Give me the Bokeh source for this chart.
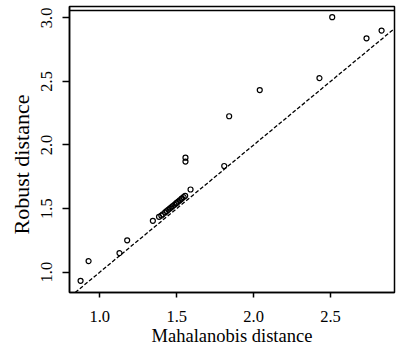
from bokeh.plotting import figure
from bokeh.models import Range1d, FixedTicker, PrintfTickFormatter, Slope, Span, Title
from bokeh.embed import file_html
from bokeh.resources import INLINE

# Mahalanobis distance (x) vs robust distance (y)
maha = [0.875, 0.927, 1.128, 1.178, 1.345,
        1.385, 1.400, 1.410, 1.425, 1.435, 1.445, 1.455, 1.465, 1.475,
        1.485, 1.495, 1.500, 1.510, 1.520, 1.530, 1.535, 1.545, 1.555,
        1.590, 1.557, 1.557, 1.809, 1.841, 2.040, 2.428, 2.511, 2.734, 2.832]
robust = [0.932, 1.087, 1.150, 1.250, 1.404,
          1.435, 1.445, 1.455, 1.470, 1.480, 1.490, 1.500, 1.510, 1.520,
          1.530, 1.540, 1.545, 1.555, 1.565, 1.575, 1.580, 1.590, 1.600,
          1.650, 1.900, 1.870, 1.835, 2.226, 2.432, 2.526, 3.005, 2.839, 2.900]

x_ticks = [1.0, 1.5, 2.0, 2.5]
y_ticks = [1.0, 1.5, 2.0, 2.5, 3.0]
ref_slope = 1.0
ref_intercept = 0.0
top_rule = 3.0576

FONT = "Liberation Serif"
W, H = 397, 350

p = figure(width=W, height=H, output_backend="svg", toolbar_location=None,
           x_range=Range1d(0.803, 2.916), y_range=Range1d(0.840, 3.0892),
           min_border_left=69, min_border_right=3, min_border_top=6,
           min_border_bottom=58)
p.background_fill_color = "white"
p.border_fill_color = "white"
p.grid.visible = False
p.outline_line_color = "black"
p.outline_line_width = 1.5
p.outline_line_alpha = 1.0

p.add_layout(Slope(gradient=ref_slope, y_intercept=ref_intercept,
                   line_color="black", line_width=1.3, line_dash="4 2"))
p.add_layout(Span(location=top_rule, dimension="width", line_color="black",
                  line_width=1.5))

p.scatter(maha, robust, size=5, fill_color=None, line_color="black",
          line_width=1.2)

for ax in (p.xaxis[0], p.yaxis[0]):
    ax.axis_line_color = "black"
    ax.axis_line_width = 1.5
    ax.major_tick_line_color = "black"
    ax.major_tick_line_width = 1.5
    ax.major_tick_in = 0
    ax.minor_tick_line_color = None
    ax.major_label_text_font = FONT
    ax.major_label_text_font_size = "16.5px"
    ax.major_label_text_color = "black"
    ax.axis_label_text_font = FONT
    ax.axis_label_text_font_size = "18.5px"
    ax.axis_label_text_font_style = "normal"
    ax.axis_label_text_color = "black"
    ax.formatter = PrintfTickFormatter(format="%.1f")

p.xaxis[0].ticker = FixedTicker(ticks=x_ticks)
p.yaxis[0].ticker = FixedTicker(ticks=y_ticks)
p.xaxis[0].axis_label = "Mahalanobis distance"
p.xaxis[0].major_tick_out = 5
p.yaxis[0].major_tick_out = 7
p.xaxis[0].major_label_standoff = 13
p.xaxis[0].axis_label_standoff = 1
p.yaxis[0].major_label_standoff = 10
p.yaxis[0].major_label_orientation = "vertical"

# y-axis title as a side title so that it can be shifted along the axis
p.add_layout(Title(text="Robust distance", align="left", offset=58,
                   text_font=FONT, text_font_size="22px",
                   text_font_style="normal", text_color="black",
                   standoff=9), "left")

open("out.html", "w").write(file_html(p, INLINE))
